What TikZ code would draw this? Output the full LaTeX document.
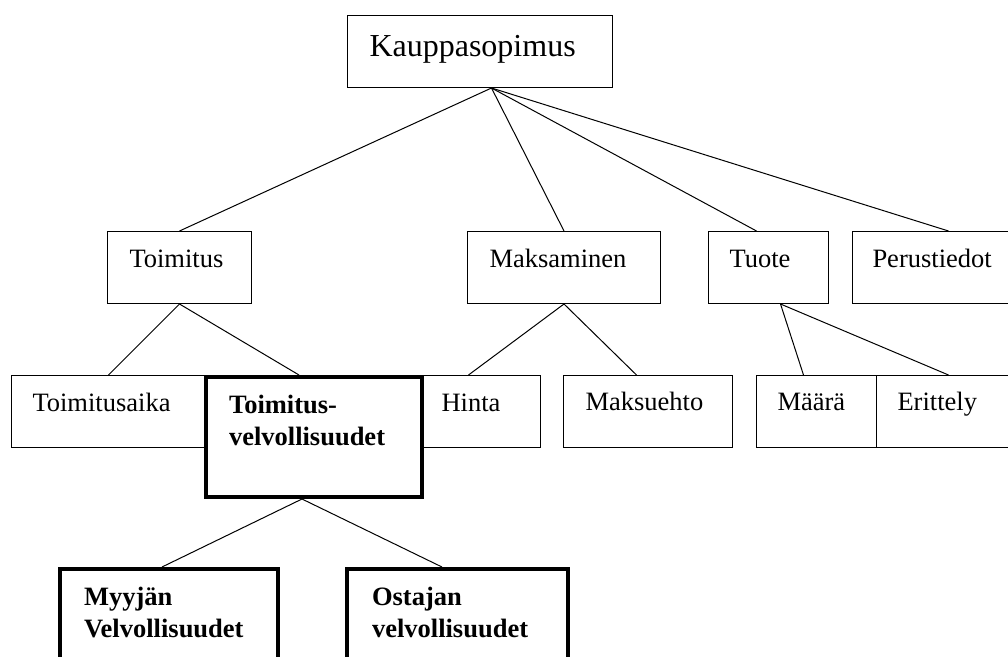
\documentclass[tikz,border=0pt]{standalone}
\usepackage{fontspec}
\setmainfont{Liberation Serif}
\usepackage{tikz}

\begin{document}
\begin{tikzpicture}[x=1pt, y=-1pt,
    box/.style={draw, line width=1pt, fill=white, anchor=north west, inner ysep=0pt, align=left,
      font=\fontsize{26.5}{32}\selectfont},
    thickbox/.style={box, line width=4pt, font=\fontsize{26.5}{32}\selectfont\bfseries},
    link/.style={line width=1pt}]
    \useasboundingbox (0,0) rectangle (1008,656);
    \clip (0,0) rectangle (1008,656);

    % top
    \node[box, inner xsep=22pt, text width=221pt, text height=41pt, text depth=31pt,
      font=\fontsize{32}{36}\selectfont] (kauppa) at (347,15) {Kauppasopimus};

    % second row
    \node[box, inner xsep=22pt, text width=100pt, text height=36pt, text depth=36pt] (toimitus) at (107,231) {Toimitus};
    \node[box, inner xsep=22pt, text width=149pt, text height=36pt, text depth=36pt] (maksaminen) at (467,231) {Maksaminen};
    \node[box, inner xsep=21pt, text width=78pt, text height=36pt, text depth=36pt] (tuote) at (708,231) {Tuote};
    \node[box, inner xsep=20pt, text width=152pt, text height=36pt, text depth=36pt] (perustiedot) at (852,231) {Perustiedot};

    % third row
    \node[box, inner xsep=21pt, text width=152pt, text height=36pt, text depth=36pt] (toimitusaika) at (11,375) {Toimitusaika};
    \node[box, inner xsep=45pt, text width=54pt, text height=36pt, text depth=36pt] (hinta) at (396,375) {Hinta};
    \node[box, inner xsep=22pt, text width=125pt, text height=35pt, text depth=37pt] (maksuehto) at (563,375) {Maksuehto};
    \node[box, inner xsep=21pt, text width=78pt, text height=35pt, text depth=37pt] (maara) at (756,375) {Määrä};
    \node[box, inner xsep=21pt, text width=102pt, text height=35pt, text depth=37pt] (erittely) at (876,375) {Erittely};
    \node[thickbox, inner xsep=23pt, text width=170pt, text height=36pt, text depth=84pt] (velvoll) at (204,375) {Toimitus-\\velvollisuudet};

    % bottom row
    \node[thickbox, inner xsep=24pt, text width=170pt, text height=36pt, text depth=77pt] (myyja) at (58,567) {Myyjän\\Velvollisuudet};
    \node[thickbox, inner xsep=25pt, text width=171pt, text height=36pt, text depth=77pt] (ostaja) at (345,567) {Ostajan\\velvollisuudet};

    % connectors
    \draw[link] ([xshift=11.5pt]kauppa.south) -- (toimitus.north);
    \draw[link] ([xshift=11.5pt]kauppa.south) -- (maksaminen.north);
    \draw[link] ([xshift=11.5pt]kauppa.south) -- ([xshift=-12pt]tuote.north);
    \draw[link] ([xshift=11.5pt]kauppa.south) -- (perustiedot.north);
    \draw[link] (toimitus.south) -- (toimitusaika.north);
    \draw[link] (toimitus.south) -- ([xshift=-15pt]velvoll.north);
    \draw[link] (maksaminen.south) -- (hinta.north);
    \draw[link] (maksaminen.south) -- ([xshift=-11.5pt]maksuehto.north);
    \draw[link] ([xshift=12pt]tuote.south) -- ([xshift=-13pt]maara.north);
    \draw[link] ([xshift=12pt]tuote.south) -- (erittely.north);
    \draw[link] ([xshift=-12pt]velvoll.south) -- ([xshift=-7pt]myyja.north);
    \draw[link] ([xshift=-12pt]velvoll.south) -- ([xshift=-15.5pt]ostaja.north);
\end{tikzpicture}
\end{document}
